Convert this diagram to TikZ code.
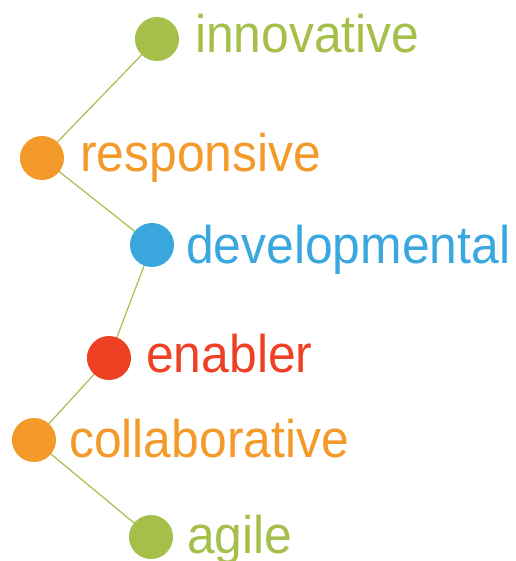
\documentclass[tikz,border=0pt]{standalone}
\usepackage{fontspec}
\usetikzlibrary{backgrounds}
\newfontfamily\wordfont[FakeStretch=0.94]{Liberation Sans}

\definecolor{leaf}{HTML}{A6BF4B}
\definecolor{amber}{HTML}{F39A2B}
\definecolor{sky}{HTML}{3AA8DF}
\definecolor{ember}{HTML}{EE4124}

% soft edged dot
\colorlet{dotc}{leaf}
\pgfdeclareradialshading[dotc]{dotball}{\pgfpoint{0bp}{0bp}}{%
  color(0bp)=(dotc); color(30bp)=(dotc); color(50bp)=(dotc!35!white); color(100bp)=(white)}

\tikzset{dotcolor/.code={\colorlet{dotc}{#1}}}

\begin{document}
\begin{tikzpicture}[x=1pt, y=-1pt,
    dot/.style={circle, minimum size=44pt, inner sep=0pt, draw=none, shading=dotball, dotcolor=#1},
    word/.style={anchor=base west, inner sep=0pt, font=\wordfont\fontsize{53}{60}\selectfont, text=#1},
    link/.style={leaf, line width=1.2pt}]
    \useasboundingbox (0,0) rectangle (515,561);

    % Dots
    \node[dot=leaf] (innovative) at (157,39) {};
    \node[dot=amber] (responsive) at (42,158) {};
    \node[dot=sky] (developmental) at (152,245) {};
    \node[dot=ember] (enabler) at (109,358) {};
    \node[dot=amber] (collaborative) at (34,440) {};
    \node[dot=leaf] (agile) at (151,537) {};

    % Words
    \node[word=leaf] (innovative-w) at (195,53) {innovative};
    \node[word=amber] (responsive-w) at (80,172) {responsive};
    \node[word=sky] (developmental-w) at (186,263) {developmental};
    \node[word=ember] (enabler-w) at (146,372) {enabler};
    \node[word=amber] (collaborative-w) at (69,457) {collaborative};
    \node[word=leaf] (agile-w) at (187,553) {agile};

    % Links behind the dots
    \begin{pgfonlayer}{background}
        \draw[link] (innovative.center) -- (responsive.center) -- (developmental.center)
            -- (enabler.center) -- (collaborative.center) -- (agile.center);
    \end{pgfonlayer}
\end{tikzpicture}
\end{document}
